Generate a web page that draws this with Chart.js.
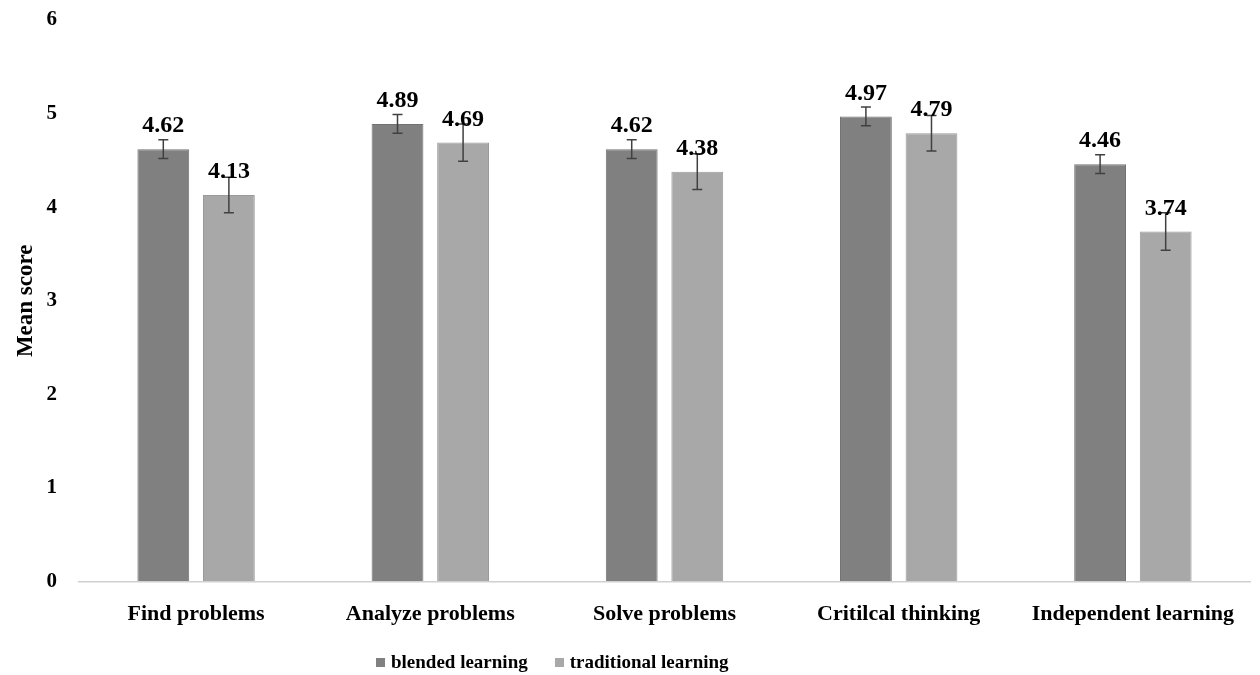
<!DOCTYPE html>
<html>
<head>
<meta charset="utf-8">
<script src="https://cdn.jsdelivr.net/npm/chart.js@4"></script>
<style>
  body { margin: 0; background: #fff; }
  #wrap { position: relative; width: 1260px; height: 675px; }
  #legend {
    position: absolute; left: 376px; top: 651px;
    display: flex; align-items: center;
    font: bold 19px "Liberation Serif", serif; color: #000;
  }
  #legend span.box { display: inline-block; width: 9px; height: 9px; margin-right: 6px; }
  #legend .item { display: flex; align-items: center; margin-right: 27px; }
</style>
</head>
<body>
<div id="wrap">
  <canvas id="chart" width="1260" height="675"></canvas>
  <div id="legend"></div>
</div>
<script>
const $ = document.querySelector.bind(document)

const categories = ["Find problems", "Analyze problems", "Solve problems", "Critilcal thinking", "Independent learning"]
const blended = [4.62, 4.89, 4.62, 4.97, 4.46]
const traditional = [4.13, 4.69, 4.38, 4.79, 3.74]
const blendedErr = [0.1, 0.1, 0.1, 0.1, 0.1]
const traditionalErr = [0.19, 0.2, 0.19, 0.19, 0.2]
const yTicks = [0, 1, 2, 3, 4, 5, 6]

const FONT = "'Liberation Serif', 'Times New Roman', serif"

const errorBars = {
    id: "errorBars",
    afterDatasetsDraw(chart) {
        const c = chart.ctx
        const y = chart.scales.y
        const errs = [blendedErr, traditionalErr]
        chart.data.datasets.forEach((ds, i) => {
            chart.getDatasetMeta(i).data.forEach((bar, j) => {
                const v = ds.data[j]
                const top = y.getPixelForValue(v + errs[i][j])
                const bot = y.getPixelForValue(v - errs[i][j])
                c.save()
                c.strokeStyle = "#404040"
                c.lineWidth = 1.5
                c.beginPath()
                c.moveTo(bar.x, top); c.lineTo(bar.x, bot)
                c.moveTo(bar.x - 5, top); c.lineTo(bar.x + 5, top)
                c.moveTo(bar.x - 5, bot); c.lineTo(bar.x + 5, bot)
                c.stroke()
                c.fillStyle = "#000"
                c.font = "bold 24px " + FONT
                c.textAlign = "center"
                c.textBaseline = "middle"
                c.fillText(v.toFixed(2), bar.x, bar.y - 23)
                c.restore()
            })
        })
    }
}

const chart = new Chart($("#chart"), {
    type: "bar",
    data: {
        labels: categories,
        datasets: [{
            label: "blended learning",
            data: blended,
            backgroundColor: "#808080",
            borderColor: "#727272",
            borderWidth: 1,
            categoryPercentage: 0.56,
            barPercentage: 0.79
        }, {
            label: "traditional learning",
            data: traditional,
            backgroundColor: "#a8a8a8",
            borderColor: "#9a9a9a",
            borderWidth: 1,
            categoryPercentage: 0.56,
            barPercentage: 0.79
        }]
    },
    options: {
        responsive: false,
        animation: false,
        layout: { padding: { top: 20, right: 10, bottom: 35, left: 0 } },
        scales: {
            x: {
                grid: { display: false },
                border: { display: true, color: "#d0d0d0", width: 1.5 },
                ticks: {
                    color: "#000",
                    padding: 12,
                    font: { family: FONT, size: 22, weight: "bold" }
                }
            },
            y: {
                min: 0,
                max: 6,
                afterBuildTicks: (axis) => { axis.ticks = yTicks.map(v => ({ value: v })) },
                afterFit: (axis) => { axis.width = 79 },
                grid: {
                    display: true,
                    drawOnChartArea: false,
                    drawTicks: true,
                    tickLength: 20,
                    color: "rgba(0,0,0,0)"
                },
                border: { display: false },
                ticks: {
                    color: "#000",
                    padding: 2,
                    font: { family: FONT, size: 21, weight: "bold" }
                },
                title: {
                    display: true,
                    text: "Mean score",
                    color: "#000",
                    padding: { top: 12, bottom: 0 },
                    font: { family: FONT, size: 23, weight: "bold" }
                }
            }
        },
        plugins: {
            legend: { display: false },
            tooltip: { enabled: false }
        }
    },
    plugins: [errorBars]
})

$("#legend").innerHTML = chart.data.datasets.map(ds =>
    `<div class="item"><span class="box" style="background:${ds.backgroundColor}"></span>${ds.label}</div>`
).join("")
</script>
</body>
</html>
